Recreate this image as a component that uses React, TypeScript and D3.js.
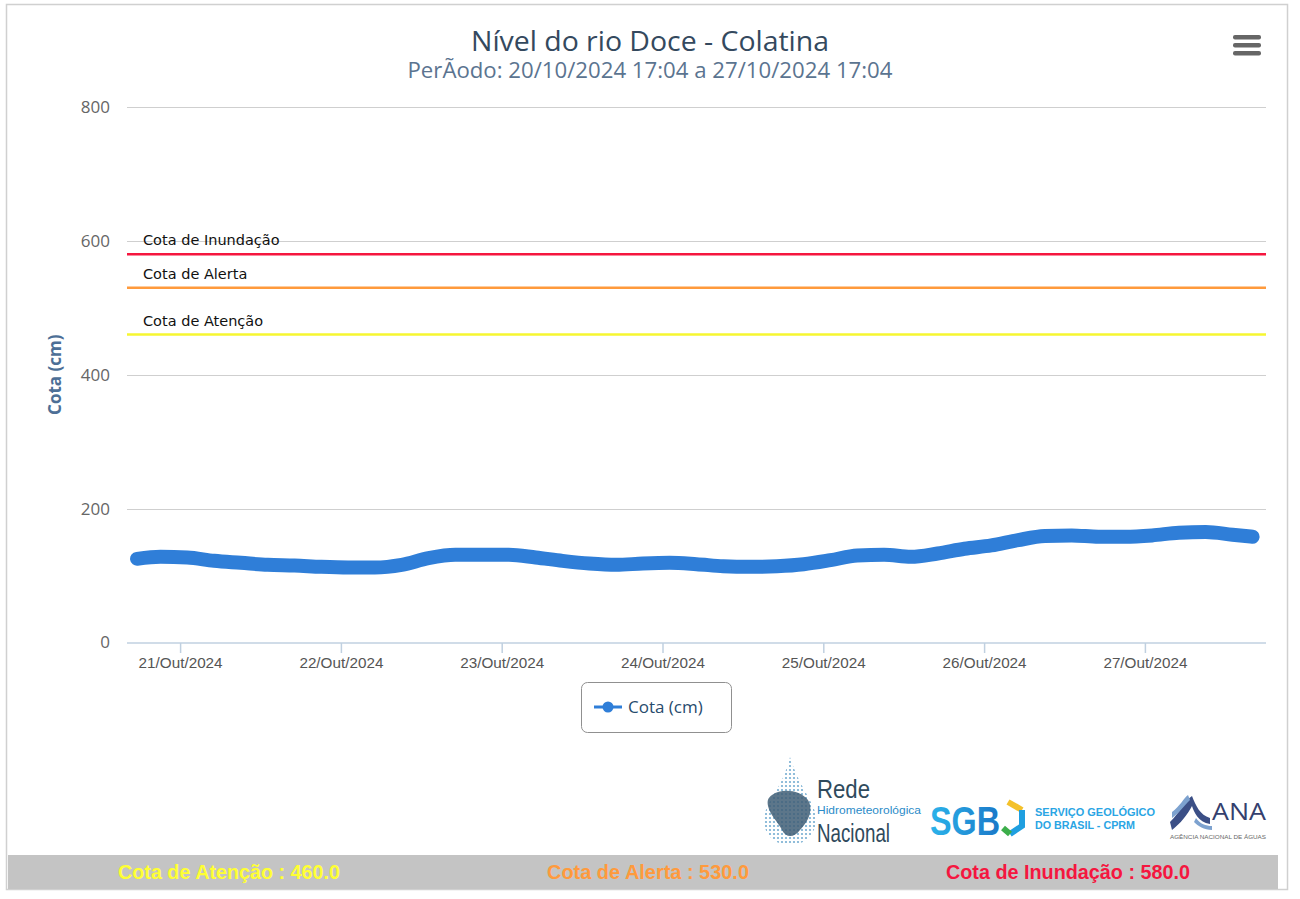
import React from 'react'
import * as d3 from 'd3'

// river level readings (cm)
const times = [
  '2024-10-20T17:30', '2024-10-20T21:00',
  '2024-10-21T01:00', '2024-10-21T05:00', '2024-10-21T09:00', '2024-10-21T13:00', '2024-10-21T17:00', '2024-10-21T21:00',
  '2024-10-22T01:00', '2024-10-22T05:00', '2024-10-22T09:00', '2024-10-22T13:00', '2024-10-22T17:00', '2024-10-22T21:00',
  '2024-10-23T01:00', '2024-10-23T05:00', '2024-10-23T09:00', '2024-10-23T13:00', '2024-10-23T17:00', '2024-10-23T21:00',
  '2024-10-24T01:00', '2024-10-24T05:00', '2024-10-24T09:00', '2024-10-24T13:00', '2024-10-24T17:00', '2024-10-24T21:00',
  '2024-10-25T01:00', '2024-10-25T05:00', '2024-10-25T09:00', '2024-10-25T13:00', '2024-10-25T17:00', '2024-10-25T21:00',
  '2024-10-26T01:00', '2024-10-26T05:00', '2024-10-26T09:00', '2024-10-26T13:00', '2024-10-26T17:00', '2024-10-26T21:00',
  '2024-10-27T01:00', '2024-10-27T05:00', '2024-10-27T09:00', '2024-10-27T13:00', '2024-10-27T16:00',
]
const cota = [
  125, 128,
  127, 122, 119, 116, 115, 113,
  112, 112, 116, 126, 131, 131,
  131, 127, 122, 118, 116, 118,
  119, 117, 114, 113, 114, 117,
  123, 130, 131, 128, 133, 140,
  145, 153, 159, 160, 158, 158,
  160, 164, 165, 161, 158,
]

const yTicks = [0, 200, 400, 600, 800]
const limits = [
  { name: 'Cota de Atenção', value: 460, color: '#f6f630' },
  { name: 'Cota de Alerta', value: 530, color: '#ff9a3c' },
  { name: 'Cota de Inundação', value: 580, color: '#f5163f' },
]

const parse = d3.timeParse('%Y-%m-%dT%H:%M')
const W = 1300
const H = 899
const plot = { left: 127, right: 1266, top: 107, bottom: 642.5 }

export default function App() {
  const data = times.map((t, i) => ({ t: parse(t) as Date, v: cota[i] }))

  const x = d3.scaleTime()
    .domain([parse('2024-10-20T16:00') as Date, parse('2024-10-27T18:00') as Date])
    .range([plot.left, plot.right])
  const y = d3.scaleLinear().domain([0, 800]).range([plot.bottom, plot.top])

  const line = d3.line<{ t: Date; v: number }>()
    .x(d => x(d.t))
    .y(d => y(d.v))
    .curve(d3.curveMonotoneX)

  const days = x.ticks(d3.timeDay.every(1) as d3.TimeInterval)
  const fmtDay = d3.timeFormat('%d')
  const fmtYear = d3.timeFormat('%Y')

  const footerY = 872

  return (
    <svg width={W} height={H} style={{ position: 'absolute', left: 0, top: 0, display: 'block' }}>
      <defs>
        <pattern id="dots" width="4" height="4" patternUnits="userSpaceOnUse">
          <circle cx="2" cy="2" r="1.1" fill="#5d9ec9" />
        </pattern>
        <linearGradient id="sgb" x1="0" x2="1" y1="0" y2="0">
          <stop offset="0" stopColor="#2bb3ea" />
          <stop offset="1" stopColor="#1b78c8" />
        </linearGradient>
      </defs>
      <rect x={0} y={0} width={W} height={H} fill="#fff" />
      <rect x={6.5} y={4.5} width={1281} height={885} fill="#fff" stroke="#d0d0d0" strokeWidth={1.5} />

      {/* title */}
      <text x={650} y={51} textAnchor="middle" fontFamily="Open Sans" fontSize={27} fill="#34495e"
        textLength={358} lengthAdjust="spacingAndGlyphs">
        Nível do rio Doce - Colatina
      </text>
      <text x={650} y={78} textAnchor="middle" fontFamily="Open Sans" fontSize={21} fill="#5b7490"
        textLength={485} lengthAdjust="spacingAndGlyphs">
        PerÃodo: 20/10/2024 17:04 a 27/10/2024 17:04
      </text>

      {/* menu button */}
      {[35, 43, 51].map(yy => (
        <rect key={yy} x={1233} y={yy} width={28} height={4.5} rx={2} fill="#666" />
      ))}

      {/* grid */}
      {yTicks.map(v => (
        <g key={v}>
          {v > 0 && (
            <line x1={plot.left} x2={plot.right} y1={Math.round(y(v)) + 0.5} y2={Math.round(y(v)) + 0.5} stroke="#cfcfcf" />
          )}
          <text x={110} y={y(v)} dy="0.35em" textAnchor="end" fontFamily="Open Sans" fontSize={17} fill="#666">
            {v}
          </text>
        </g>
      ))}

      {/* threshold lines */}
      {limits.map(l => (
        <g key={l.name}>
          <line x1={plot.left} x2={plot.right} y1={y(l.value)} y2={y(l.value)} stroke={l.color} strokeWidth={2.5} />
          <text x={143} y={y(l.value) - 9} fontFamily="DejaVu Sans" fontSize={14.5} fill="#111">
            {l.name}
          </text>
        </g>
      ))}

      {/* x axis */}
      <line x1={plot.left} x2={plot.right} y1={643} y2={643} stroke="#c0d0e0" strokeWidth={1.5} />
      {days.map(d => (
        <g key={+d} transform={`translate(${x(d)},0)`}>
          <line y1={643} y2={653} stroke="#c0d0e0" strokeWidth={1.5} />
          <text y={668} textAnchor="middle" fontFamily="Liberation Sans" fontSize={14} fill="#555"
            textLength={84} lengthAdjust="spacingAndGlyphs">
            {`${fmtDay(d)}/Out/${fmtYear(d)}`}
          </text>
        </g>
      ))}

      {/* y axis title */}
      <text transform={`translate(61,${(plot.top + plot.bottom) / 2}) rotate(-90)`} textAnchor="middle"
        fontFamily="Open Sans" fontWeight="bold" fontSize={17} fill="#4d6f96">
        Cota (cm)
      </text>

      {/* series */}
      <path d={line(data) || ''} fill="none" stroke="#2f7ed8" strokeWidth={14} strokeLinecap="round" strokeLinejoin="round" />

      {/* legend */}
      <rect x={581.5} y={682.5} width={150} height={50} rx={6} fill="#fff" stroke="#909090" />
      <line x1={594} x2={622} y1={707} y2={707} stroke="#2f7ed8" strokeWidth={3} />
      <circle cx={608} cy={707} r={5.5} fill="#2f7ed8" />
      <text x={628} y={707} dy="0.35em" fontFamily="Open Sans" fontSize={17} fill="#274b6d">
        Cota (cm)
      </text>

      {/* logos */}
      <g>
        <path d="M790,757 C800,790 818,805 816,822 C814,838 802,845 790,845 C776,845 764,836 764,820 C764,803 782,790 790,757 Z"
          fill="url(#dots)" opacity={0.85} />
        <path d="M772,795 C782,788 800,790 808,800 C814,810 808,822 800,830 C794,838 786,838 782,830 C778,822 770,815 768,806 C767,800 768,798 772,795 Z"
          fill="#3f5e75" opacity={0.85} />
        <text x={817} y={798} fontFamily="Liberation Sans" fontSize={26} fill="#2f4a5c" textLength={53} lengthAdjust="spacingAndGlyphs">Rede</text>
        <text x={817} y={813.5} fontFamily="Liberation Sans" fontSize={11} fill="#2b8bc8" textLength={104} lengthAdjust="spacingAndGlyphs">Hidrometeorológica</text>
        <text x={817} y={842} fontFamily="Liberation Sans" fontSize={26} fill="#2f4a5c" textLength={73} lengthAdjust="spacingAndGlyphs">Nacional</text>

        <text x={930} y={835} fontFamily="Liberation Sans" fontWeight="bold" fontSize={40} fill="url(#sgb)" textLength={70} lengthAdjust="spacingAndGlyphs">SGB</text>
        <path d="M1008,802 L1022,810" stroke="#f4c12a" strokeWidth={6} fill="none" />
        <path d="M1022,810 L1022,826 L1010,834" stroke="#1f9fe0" strokeWidth={6} fill="none" />
        <path d="M1003,828 L1010,834" stroke="#3cae4a" strokeWidth={6} fill="none" />
        <text x={1035} y={816} fontFamily="Liberation Sans" fontWeight="bold" fontSize={11} fill="#2aa5e4" textLength={120} lengthAdjust="spacingAndGlyphs">SERVIÇO GEOLÓGICO</text>
        <text x={1035} y={829} fontFamily="Liberation Sans" fontWeight="bold" fontSize={11} fill="#2aa5e4" textLength={100} lengthAdjust="spacingAndGlyphs">DO BRASIL - CPRM</text>

        <path d="M1170,822 C1180,812 1186,800 1192,796 C1196,806 1200,815 1210,818 L1210,824 C1198,822 1194,812 1192,806 C1188,814 1180,824 1172,830 Z" fill="#3b4f86" />
        <path d="M1172,812 C1180,806 1184,798 1188,795 L1190,800 C1184,806 1178,814 1172,818 Z" fill="#7da2cf" />
        <path d="M1196,818 C1200,824 1206,826 1212,826 L1212,830 C1204,830 1198,826 1194,822 Z" fill="#7da2cf" />
        <text x={1212} y={820} fontFamily="Open Sans" fontSize={24} fill="#34406e" textLength={54} lengthAdjust="spacingAndGlyphs">ANA</text>
        <text x={1170} y={839} fontFamily="Liberation Sans" fontSize={6} fill="#666" textLength={96} lengthAdjust="spacingAndGlyphs">AGÊNCIA NACIONAL DE ÁGUAS</text>
      </g>

      {/* footer with limits */}
      <rect x={8} y={855} width={1270} height={34} fill="#c4c4c4" />
      {limits.map((l, i) => (
        <text key={l.name} x={[229, 648, 1068][i]} y={footerY} dy="0.35em" textAnchor="middle"
          fontFamily="Liberation Sans" fontWeight="bold" fontSize={20}
          fill={l.color === '#f6f630' ? '#ffff33' : l.color}
          textLength={[222, 202, 244][i]} lengthAdjust="spacingAndGlyphs">
          {`${l.name} : ${l.value.toFixed(1)}`}
        </text>
      ))}
    </svg>
  )
}
